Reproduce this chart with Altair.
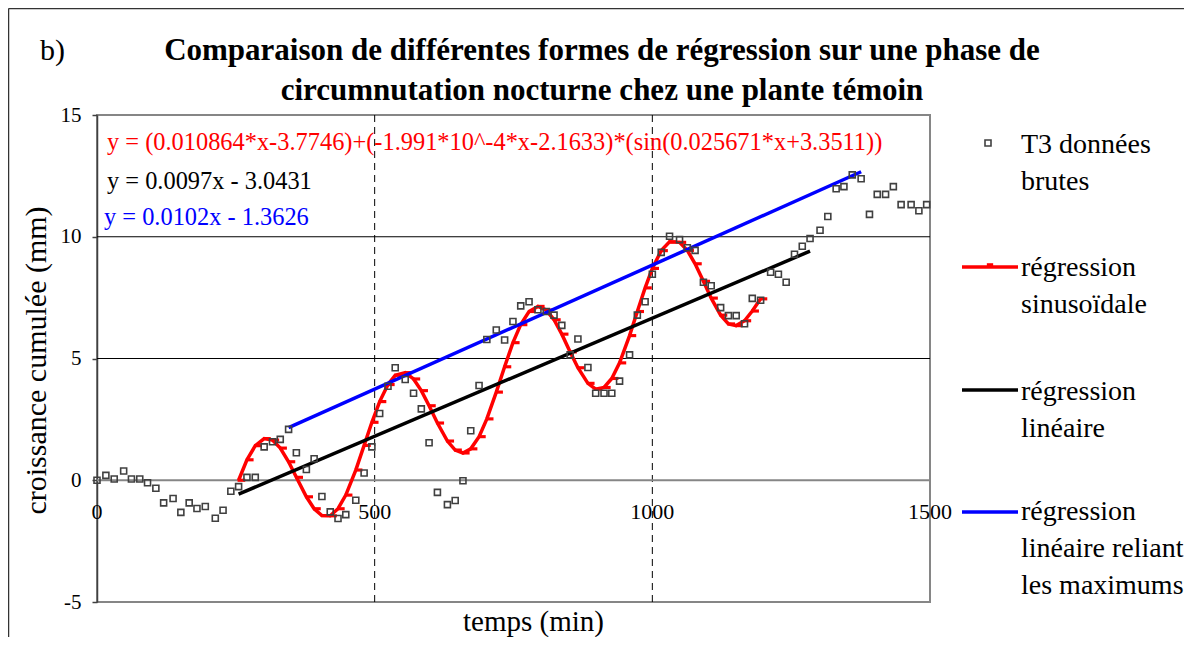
import altair as alt
import pandas as pd

FONT = "Liberation Serif"

# ---- data ----
time_min = [0, 16, 31, 48, 62, 77, 91, 106, 120, 137, 151, 166, 180, 195, 213, 227, 241, 255,
            270, 285, 301, 316, 330, 345, 359, 377, 391, 405, 420, 434, 448, 466, 481, 495, 509,
            524, 537, 555, 570, 584, 598, 613, 631, 645, 659, 673, 688, 702, 719, 734, 749, 763,
            778, 794, 809, 823, 837, 852, 866, 884, 898, 913, 927, 941, 959, 973, 987, 1000, 1016,
            1031, 1049, 1063, 1077, 1092, 1106, 1123, 1137, 1151, 1166, 1180, 1195, 1213, 1227,
            1241, 1256, 1270, 1284, 1302, 1316, 1331, 1345, 1360, 1376, 1391, 1405, 1420, 1434,
            1448, 1466, 1480, 1494]
growth_mm = [0.0, 0.2, 0.05, 0.38, 0.05, 0.05, -0.1, -0.33, -0.93, -0.75, -1.32, -0.93, -1.16,
             -1.08, -1.56, -1.23, -0.45, -0.26, 0.12, 0.12, 1.37, 1.58, 1.68, 2.09, 1.13, 0.44,
             0.88, -0.67, -1.3, -1.57, -1.41, -0.82, 0.3, 1.37, 2.74, 3.86, 4.62, 4.14, 3.57,
             2.93, 1.54, -0.5, -1.0, -0.83, -0.02, 2.03, 3.89, 5.78, 6.17, 5.76, 6.52, 7.16, 7.33,
             7.0, 6.93, 6.78, 6.36, 5.15, 5.8, 4.63, 3.57, 3.57, 3.57, 4.07, 5.15, 6.78, 7.33,
             8.46, 9.36, 10.02, 9.88, 9.55, 9.44, 8.13, 7.99, 7.09, 6.76, 6.76, 6.43, 7.47, 7.39,
             8.54, 8.46, 8.13, 9.28, 9.61, 9.93, 10.27, 10.83, 11.97, 12.06, 12.54, 12.38, 10.92,
             11.74, 11.74, 12.06, 11.32, 11.32, 11.07, 11.32]

sin_time = [255, 270, 285, 301, 316, 330, 345, 359, 377, 391, 405, 420, 434, 448, 466, 481, 495,
            509, 524, 537, 555, 570, 584, 598, 613, 631, 645, 659, 673, 688, 702, 719, 734, 749,
            763, 778, 794, 809, 823, 837, 852, 866, 884, 898, 913, 927, 941, 959, 973, 987, 1000,
            1016, 1031, 1049, 1063, 1077, 1092, 1106, 1123, 1137, 1151, 1166, 1180, 1195]
sin_fit = [0.0, 0.84, 1.42, 1.71, 1.65, 1.32, 0.76, 0.12, -0.68, -1.17, -1.45, -1.46, -1.17,
           -0.61, 0.42, 1.43, 2.38, 3.23, 3.93, 4.31, 4.42, 4.16, 3.68, 3.06, 2.35, 1.61, 1.24,
           1.12, 1.29, 1.79, 2.52, 3.62, 4.66, 5.65, 6.39, 6.93, 7.14, 6.99, 6.59, 6.0, 5.27,
           4.62, 3.98, 3.74, 3.81, 4.18, 4.82, 5.94, 6.93, 7.9, 8.7, 9.43, 9.79, 9.77, 9.44,
           8.89, 8.17, 7.48, 6.78, 6.42, 6.35, 6.55, 6.95, 7.45]

lin_time = [255, 1284]
lin_fit = [-0.57, 9.41]
max_time = [345, 1376]
max_fit = [2.16, 12.67]

grid_y = [5, 10]
grid_x = [500, 1000]
xtick_values = [0, 500, 1000, 1500]
ytick_values = [-5, 0, 5, 10, 15]

eq_texts = ["y = (0.010864*x-3.7746)+(-1.991*10^-4*x-2.1633)*(sin(0.025671*x+3.3511))",
            "y = 0.0097x - 3.0431",
            "y = 0.0102x - 1.3626"]
eq_colors = ["#FF0000", "#000000", "#0000FF"]

legend_labels = ["T3 données\nbrutes", "régression\nsinusoïdale", "régression\nlinéaire",
                 "régression\nlinéaire reliant\nles maximums"]
series_colors = ["#404040", "#FF0000", "#000000", "#0000FF"]

title_text = ("Comparaison de différentes formes de régression sur une phase de\n"
              "circumnutation nocturne chez une plante témoin")
panel_label = "b)"

# ---- chart ----
W, H = 833, 487

xs = alt.Scale(domain=[0, 1500], nice=False, zero=False)
ys = alt.Scale(domain=[-5, 15], nice=False, zero=False)

x_axis = alt.Axis(title="temps (min)", labels=False, ticks=False, domain=False, grid=False,
                  titleFont=FONT, titleFontSize=29, titleFontWeight="normal", titleColor="black",
                  titleX=436, titleY=28, titleBaseline="alphabetic", titleAlign="center")
y_axis = alt.Axis(title="croissance cumulée (mm)", values=ytick_values, grid=False,
                  labelExpr="replace(datum.label, '\u2212', '-')",
                  domainColor="#404040", domainWidth=1.5, tickColor="#404040", tickWidth=1.5,
                  tickSize=5, labelFont=FONT, labelFontSize=21, labelColor="black",
                  labelPadding=11, labelFlush=False, labelOverlap=False,
                  titleFont=FONT, titleFontSize=30, titleFontWeight="normal", titleColor="black",
                  titleAngle=-90, titleX=-52, titleY=245, titleBaseline="alphabetic",
                  titleAlign="center")

X = alt.X("t:Q", scale=xs, axis=x_axis)
Y = alt.Y("g:Q", scale=ys, axis=y_axis)

raw = pd.DataFrame({"t": time_min, "g": growth_mm})
sin_df = pd.DataFrame({"t": sin_time, "g": sin_fit})
lin_df = pd.DataFrame({"t": lin_time, "g": lin_fit})
max_df = pd.DataFrame({"t": max_time, "g": max_fit})
gy_df = pd.DataFrame({"g": grid_y})
gx_df = pd.DataFrame({"t": grid_x})
zero_df = pd.DataFrame({"g": [0]})
xt_df = pd.DataFrame({"t": xtick_values, "lab": [str(v) for v in xtick_values]})
one = pd.DataFrame({"k": [0]})

layers = []
layers.append(alt.Chart(gy_df).mark_rule(color="black", strokeWidth=1).encode(y=Y))
layers.append(alt.Chart(gx_df).mark_rule(color="black", strokeWidth=1, strokeDash=[7, 5]).encode(x=X))
layers.append(alt.Chart(zero_df).mark_rule(color="#868686", strokeWidth=2).encode(y=Y))
layers.append(alt.Chart(xt_df).mark_text(font=FONT, fontSize=22, color="black", baseline="middle",
                                         align="center", dy=32)
              .encode(x=X, y=alt.datum(0), text="lab:N"))

layers.append(alt.Chart(sin_df).mark_line(color=series_colors[1], strokeWidth=3.5).encode(x=X, y=Y))
layers.append(alt.Chart(sin_df).mark_point(shape="M-0.3,-0.45H1.9V0.45H-0.3Z", filled=True,
                                           color=series_colors[1], size=49, opacity=1)
              .encode(x=X, y=Y))
layers.append(alt.Chart(lin_df).mark_line(color=series_colors[2], strokeWidth=3.5).encode(x=X, y=Y))
layers.append(alt.Chart(max_df).mark_line(color=series_colors[3], strokeWidth=3.5).encode(x=X, y=Y))
layers.append(alt.Chart(raw).mark_point(shape="square", filled=False, color=series_colors[0],
                                        size=36, strokeWidth=1.6, opacity=1)
              .encode(x=X, y=Y))

# equations
eq_y = [28, 67, 103]
eq_x = [10, 10, 7]
for txt, col, yy, xx in zip(eq_texts, eq_colors, eq_y, eq_x):
    layers.append(alt.Chart(pd.DataFrame({"s": [txt]})).mark_text(
        font=FONT, fontSize=24.4, color=col, align="left", baseline="middle")
        .encode(x=alt.value(xx), y=alt.value(yy), text="s:N"))

# title and panel label
layers.append(alt.Chart(pd.DataFrame({"s": [title_text]})).mark_text(
    font=FONT, fontSize=31, fontWeight="bold", color="black", align="center",
    baseline="alphabetic", lineBreak="\n", lineHeight=40)
    .encode(x=alt.value(505), y=alt.value(-55), text="s:N"))
layers.append(alt.Chart(pd.DataFrame({"s": [panel_label]})).mark_text(
    font=FONT, fontSize=30, color="black", align="left", baseline="alphabetic")
    .encode(x=alt.value(-57), y=alt.value(-55), text="s:N"))

# legend (drawn to the right of the plot)
leg_text_y = [38, 161, 285, 405]
leg_line_y = [28, 152, 275, 397]
layers.append(alt.Chart(one).mark_point(shape="square", filled=False, color=series_colors[0],
                                        size=36, strokeWidth=1.6, opacity=1)
              .encode(x=alt.value(891), y=alt.value(leg_line_y[0])))
for i in range(1, 4):
    layers.append(alt.Chart(one).mark_rule(color=series_colors[i], strokeWidth=3.5)
                  .encode(x=alt.value(865), x2=alt.value(921), y=alt.value(leg_line_y[i])))
layers.append(alt.Chart(one).mark_point(shape="M-1,-1.2H1V0H-1Z", filled=True,
                                        color=series_colors[1], size=40, opacity=1)
              .encode(x=alt.value(893), y=alt.value(leg_line_y[1])))
for lab, ty in zip(legend_labels, leg_text_y):
    layers.append(alt.Chart(pd.DataFrame({"s": [lab]})).mark_text(
        font=FONT, fontSize=28, color="black", align="left", baseline="alphabetic",
        lineBreak="\n", lineHeight=37)
        .encode(x=alt.value(924), y=alt.value(ty), text="s:N"))

# outer frame of the figure
layers.append(alt.Chart(one).mark_rule(color="#333333", strokeWidth=1.5)
              .encode(x=alt.value(-88.5), y=alt.value(-106.5), y2=alt.value(530)))
layers.append(alt.Chart(one).mark_rule(color="#333333", strokeWidth=1.5)
              .encode(x=alt.value(-88.5), x2=alt.value(1100), y=alt.value(-106.5)))

chart = alt.layer(*layers).properties(
    width=W, height=H,
    autosize=alt.AutoSizeParams(type="none"),
    padding={"left": 89, "top": 107, "right": 254, "bottom": 35},
).configure_view(stroke="#868686", strokeWidth=2)

chart.save("out.html", embed_options={"renderer": "svg", "actions": False})
